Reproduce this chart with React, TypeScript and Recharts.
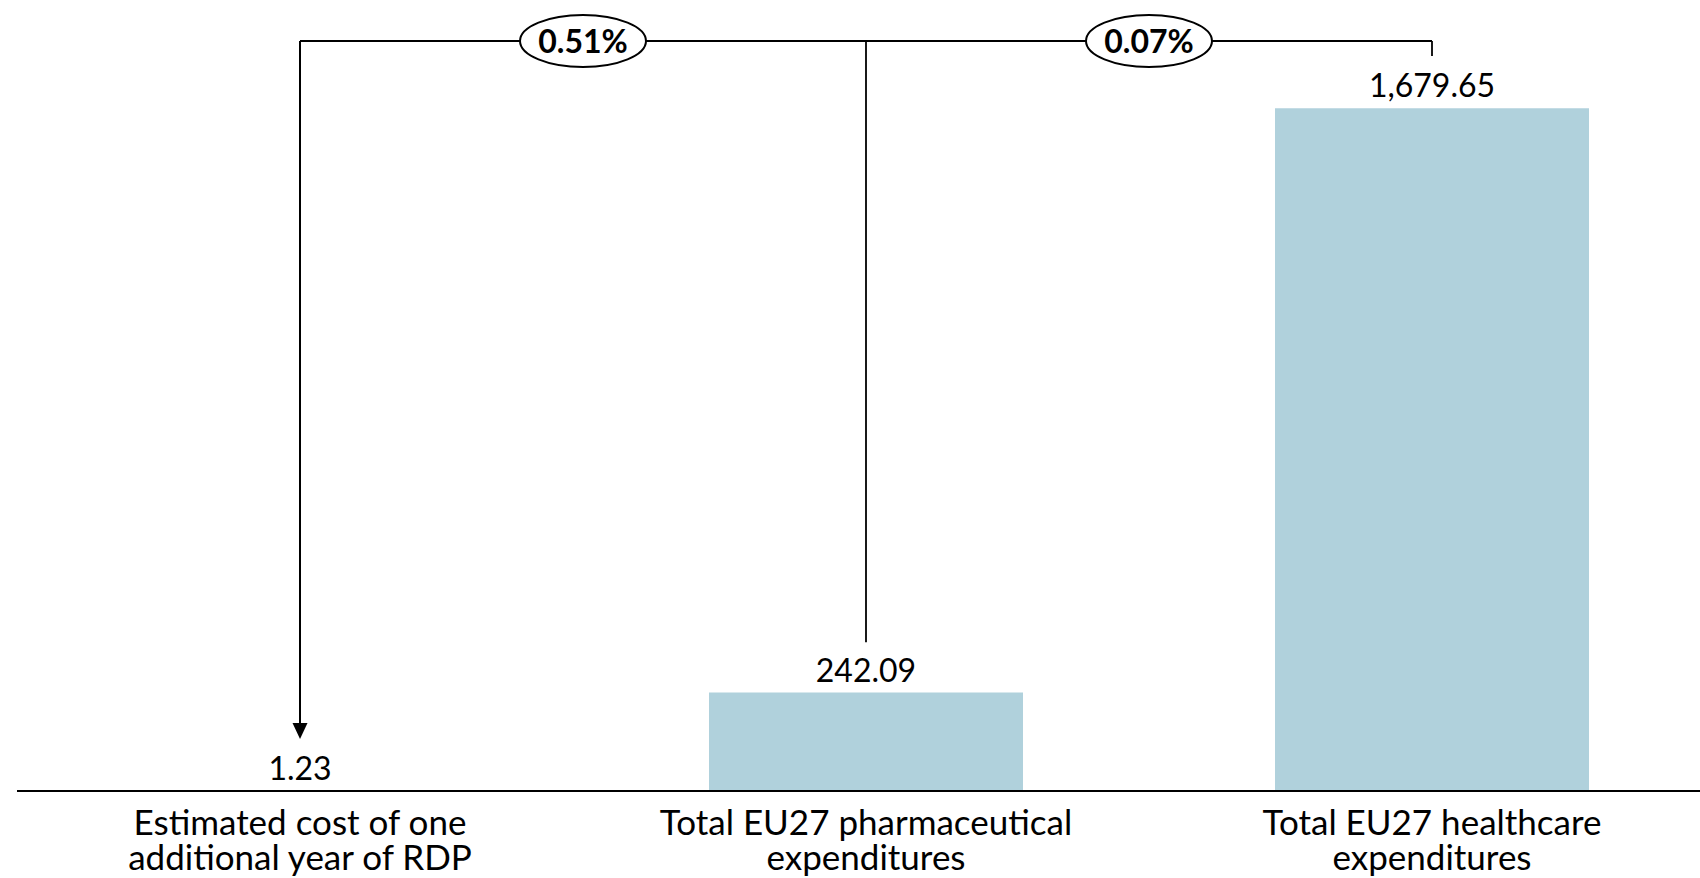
import React from 'react';
import { BarChart, Bar, XAxis, YAxis, LabelList, ReferenceLine } from 'recharts';

const categories = ['rdp', 'pharma', 'health'];
const categoryLines: string[][] = [
  ['Estimated cost of one', 'additional year of RDP'],
  ['Total EU27 pharmaceutical', 'expenditures'],
  ['Total EU27 healthcare', 'expenditures'],
];
const values = [1.23, 242.09, 1679.65];
const shareLabels = ['0.51%', '0.07%'];

const Y_MAX = 1946;
const BRACKET_Y = 1845;
const ARROW_TIP_Y = 128;
const MID_DROP_Y = 366;
const RIGHT_DROP_Y = 1808;

const FONT = 'Lato, "Noto Sans", sans-serif';
const FS = 32;
const TICK_FS = 35;

const data = categories.map((c, i) => ({ key: c, value: values[i] }));

const fmt = (v: any) =>
  Number(v).toLocaleString('en-US', { minimumFractionDigits: 2, maximumFractionDigits: 2 });

const Tick = (props: any) => {
  const { x, y, payload } = props;
  const idx = categories.indexOf(payload.value);
  const lines = categoryLines[idx] || [];
  return (
    <text x={x} y={y} textAnchor="middle" fontSize={TICK_FS} fontFamily={FONT} fill="#000">
      <tspan x={x} dy={44}>{lines[0]}</tspan>
      <tspan x={x} dy={35}>{lines[1]}</tspan>
    </text>
  );
};

const makeLabeledLine = (label: string) => (p: any) => {
  const { x1, y1, x2, y2 } = p;
  const mx = (x1 + x2) / 2;
  const my = (y1 + y2) / 2;
  return (
    <g>
      <line x1={x1} y1={y1} x2={x2} y2={y2} stroke="#000" strokeWidth={2} />
      <ellipse cx={mx} cy={my} rx={63} ry={26} fill="#fff" stroke="#000" strokeWidth={2} />
      <text x={mx} y={my} dy={11.5} textAnchor="middle" fontSize={32} fontWeight={700} fontFamily={FONT} fill="#000">
        {label}
      </text>
    </g>
  );
};

const PlainLine = (p: any) => {
  const { x1, y1, x2, y2 } = p;
  return <line x1={x1} y1={y1} x2={x2} y2={y2} stroke="#000" strokeWidth={1.8} />;
};

const ArrowLine = (p: any) => {
  const { x1, y1, x2, y2 } = p;
  const head = 16;
  const hw = 7.5;
  return (
    <g>
      <line x1={x1} y1={y1} x2={x2} y2={y2 - head} stroke="#000" strokeWidth={2} />
      <polygon points={`${x2 - hw},${y2 - head} ${x2 + hw},${y2 - head} ${x2},${y2}`} fill="#000" />
    </g>
  );
};

export default function App() {
  return (
    <div style={{ position: 'absolute', left: 0, top: 0, width: 1700, height: 878, overflow: 'hidden', background: '#fff' }}>
      <BarChart width={1715} height={878} data={data} margin={{ top: 0, right: 0, left: 17, bottom: 0 }}>
        <XAxis
          dataKey="key"
          height={87}
          tickLine={false}
          tickSize={0}
          tickMargin={0}
          axisLine={{ stroke: '#000', strokeWidth: 2 }}
          tick={<Tick />}
          interval={0}
        />
        <YAxis hide domain={[0, Y_MAX]} />
        <Bar dataKey="value" fill="#B0D1DC" barSize={314} isAnimationActive={false}>
          <LabelList
            dataKey="value"
            position="top"
            offset={11}
            formatter={fmt}
            fontSize={FS}
            fontFamily={FONT}
            fill="#000"
          />
        </Bar>
        <ReferenceLine
          segment={[{ x: categories[0], y: BRACKET_Y }, { x: categories[1], y: BRACKET_Y }]}
          shape={makeLabeledLine(shareLabels[0])}
        />
        <ReferenceLine
          segment={[{ x: categories[1], y: BRACKET_Y }, { x: categories[2], y: BRACKET_Y }]}
          shape={makeLabeledLine(shareLabels[1])}
        />
        <ReferenceLine
          segment={[{ x: categories[0], y: BRACKET_Y }, { x: categories[0], y: ARROW_TIP_Y }]}
          shape={ArrowLine}
        />
        <ReferenceLine
          segment={[{ x: categories[1], y: BRACKET_Y }, { x: categories[1], y: MID_DROP_Y }]}
          shape={PlainLine}
        />
        <ReferenceLine
          segment={[{ x: categories[2], y: BRACKET_Y }, { x: categories[2], y: RIGHT_DROP_Y }]}
          shape={PlainLine}
        />
      </BarChart>
    </div>
  );
}
